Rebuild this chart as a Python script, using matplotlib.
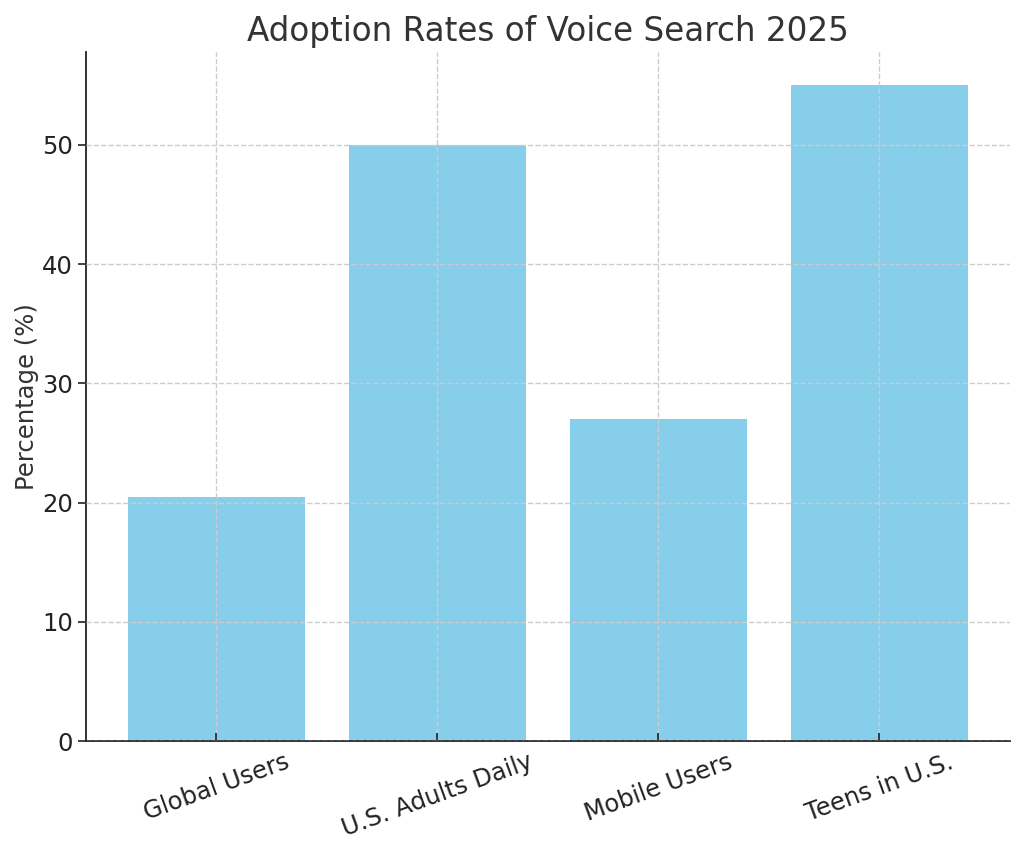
import matplotlib
matplotlib.use("Agg")
import matplotlib.pyplot as plt

# donnees
categories = ["Global Users", "U.S. Adults Daily", "Mobile Users", "Teens in U.S."]
percentages = [20.5, 50, 27, 55]

fig = plt.figure(figsize=(10.24, 8.56), dpi=100)
ax = fig.add_axes([0.084, 0.134, 0.902, 0.805])

ax.bar(categories, percentages, color="skyblue", width=0.8, zorder=1)
ax.grid(True, linestyle="--", color="#cccccc", linewidth=1, zorder=2)
ax.set_axisbelow(False)

ax.set_title("Adoption Rates of Voice Search 2025", fontsize=23.5, color="#333333", pad=8)
ax.set_ylabel("Percentage (%)", fontsize=17.5, color="#333333", labelpad=2)
ax.tick_params(axis="y", labelsize=17.5, colors="#222222", length=6, width=1.2)
ax.tick_params(axis="x", labelsize=17.5, colors="#222222", direction="in", length=6, width=1.2, pad=6)
plt.setp(ax.get_xticklabels(), rotation=20)

for s in ["top", "right"]:
    ax.spines[s].set_visible(False)
for s in ["left", "bottom"]:
    ax.spines[s].set_color("#222222")
    ax.spines[s].set_linewidth(1.3)

fig.savefig("out.png", dpi=100)
